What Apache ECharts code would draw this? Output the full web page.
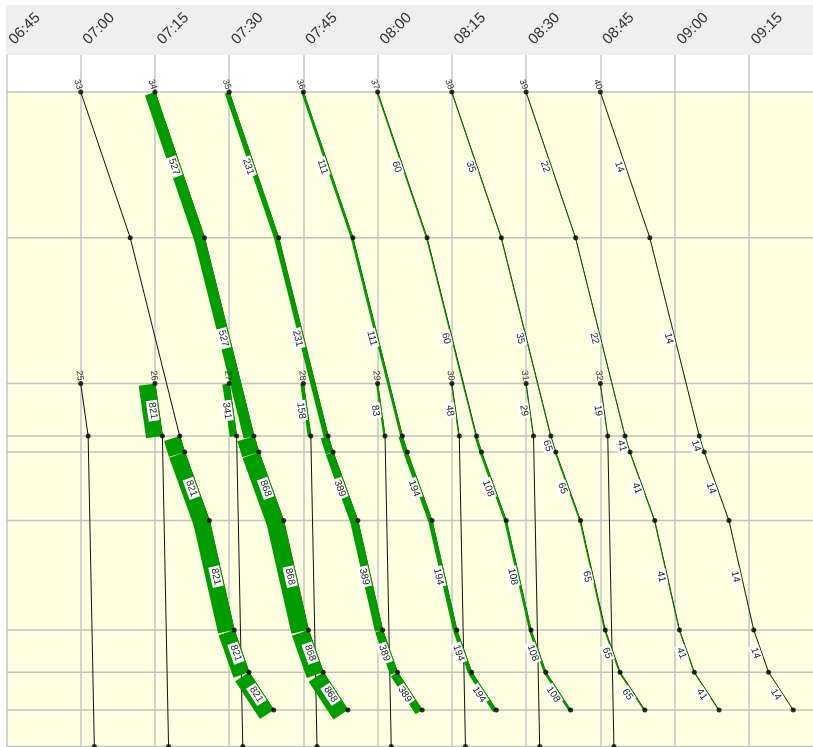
<!DOCTYPE html>
<html>
<head>
<meta charset="utf-8">
<script src="https://cdn.jsdelivr.net/npm/echarts@6/dist/echarts.min.js"></script>
<style>
html,body{margin:0;padding:0;background:#fff;}
#chart{width:813px;height:747px;}
</style>
</head>
<body>
<div id="chart"></div>
<script>
/*------------------------- data ----------------------------*/
//stations, km from the top one
var stationKm = [0, 10.0, 20.0, 23.6, 24.7, 29.4, 36.9, 39.8, 42.4, 44.9];
var transferStop = 3;
//main line trips
var mainTrips = ['33', '34', '35', '36', '37', '38', '39', '40'];
var mainDepart = ['07:00', '07:15', '07:30', '07:45', '08:00', '08:15', '08:30', '08:45'];
var mainStops = [0, 1, 3, 4, 5, 6, 7, 8];
var mainRunMin = [0, 10, 20, 21, 26, 31, 34, 39];
var mainLoadBefore = [0, 527, 231, 111, 60, 35, 22, 14];
var mainLoadAfter = [821, 868, 389, 194, 108, 65, 41, 14];
//feeder trips
var feederTrips = ['25', '26', '27', '28', '29', '30', '31', '32'];
var feederDepart = ['07:00', '07:15', '07:30', '07:45', '08:00', '08:15', '08:30', '08:45'];
var feederStops = [2, 3, 9];
var feederRunMin = [0, 1.5, 2.75];
var feederLoad = [0, 821, 341, 158, 83, 48, 29, 19];
//time axis
var timeMin = '06:45';
var timeMax = '09:30';
var timeStep = 15;

/*------------------------- build ----------------------------*/
function toMin(s){
    var p = s.split(':');
    return parseInt(p[0], 10) * 60 + parseInt(p[1], 10);
}
function fmtMin(v){
    var h = Math.floor(v / 60), m = Math.round(v % 60);
    return (h < 10 ? '0' : '') + h + ':' + (m < 10 ? '0' : '') + m;
}
var segs = [];
var dots = [];
function addTrip(name, dep, stops, run, loadOf){
    var t0 = toMin(dep);
    for(var i = 0; i < stops.length; i++){
        dots.push([t0 + run[i], stationKm[stops[i]]]);
        if(i < stops.length - 1){
            segs.push({
                t1: t0 + run[i], v1: stationKm[stops[i]],
                t2: t0 + run[i + 1], v2: stationKm[stops[i + 1]],
                load: loadOf(stops[i]),
                name: i == 0 ? name : ''
            });
        }
    }
}
for(var i = 0; i < mainTrips.length; i++){
    (function(k){
        addTrip(mainTrips[k], mainDepart[k], mainStops, mainRunMin, function(st){
            return st < transferStop ? mainLoadBefore[k] : mainLoadAfter[k];
        });
    })(i);
}
for(var i = 0; i < feederTrips.length; i++){
    (function(k){
        addTrip(feederTrips[k], feederDepart[k], feederStops, feederRunMin, function(st){
            return st < transferStop ? feederLoad[k] : 0;
        });
    })(i);
}

/*------------------------- render ----------------------------*/
var FONT = 'Liberation Sans, Arial, sans-serif';
function renderSeg(params, api){
    var s = segs[params.dataIndex];
    var p1 = api.coord([api.value(0), api.value(1)]);
    var p2 = api.coord([api.value(2), api.value(3)]);
    var dx = p2[0] - p1[0], dy = p2[1] - p1[1];
    var len = Math.sqrt(dx * dx + dy * dy);
    var ux = dx / len, uy = dy / len;
    var nx = -uy, ny = ux;          //band lies on the left side
    var load = api.value(4);
    var w = load / 50;
    var rot = -Math.atan2(dy, dx);
    var kids = [];
    kids.push({
        type: 'line', z2: 1,
        shape: {x1: p1[0], y1: p1[1], x2: p2[0], y2: p2[1]},
        style: {stroke: '#111', lineWidth: 1}
    });
    if(load > 0){
        var s0 = w > 1.5 ? -0.5 : 0;
        kids.push({
            type: 'polygon', z2: 2,
            shape: {points: [
                [p1[0] + nx * s0, p1[1] + ny * s0],
                [p2[0] + nx * s0, p2[1] + ny * s0],
                [p2[0] + nx * w, p2[1] + ny * w],
                [p1[0] + nx * w, p1[1] + ny * w]
            ]},
            style: {fill: '#009c00'}
        });
        //short segments only keep the label when the band is thin
        if(len > 25 || w < 2){
            kids.push({
                type: 'text', z2: 10,
                x: (p1[0] + p2[0]) / 2 + nx * 6,
                y: (p1[1] + p2[1]) / 2 + ny * 6,
                rotation: rot,
                style: {
                    text: String(load), fill: '#222', font: '10px ' + FONT,
                    align: 'center', verticalAlign: 'middle',
                    backgroundColor: '#fff', padding: [1, 2, 0, 2]
                }
            });
        }
    }
    if(s.name){
        kids.push({
            type: 'text', z2: 10,
            x: p1[0] - ux * 3, y: p1[1] - uy * 3,
            rotation: rot,
            style: {
                text: s.name, fill: '#333', font: '9px ' + FONT,
                align: 'right', verticalAlign: 'middle'
            }
        });
    }
    return {type: 'group', children: kids};
}
function renderStation(params, api){
    var cs = params.coordSys;
    var p = api.coord([toMin(timeMin), api.value(0)]);
    return {
        type: 'line',
        shape: {x1: cs.x, y1: p[1], x2: cs.x + cs.width, y2: p[1]},
        style: {stroke: '#c2c2c2', lineWidth: 1.5}
    };
}

var myChart = echarts.init(document.getElementById('chart'));
var splitStyle = {show: true, lineStyle: {color: '#c6c6c6', width: 1.5}};
var option = {
    animation: false,
    graphic: {
        elements: [{
            type: 'rect', z: -10, left: 6, top: 5,
            shape: {width: 807, height: 50},
            style: {fill: '#efefef'}
        }]
    },
    grid: [
        {left: 6.5, right: -10, top: 55, height: 37, outerBoundsMode: 'none', containLabel: false},
        {left: 6.5, right: -10, top: 92, bottom: -1, outerBoundsMode: 'none', containLabel: false,
         show: true, backgroundColor: '#fffee0', borderWidth: 0}
    ],
    xAxis: [
        {
            gridIndex: 0, type: 'value', position: 'top',
            min: toMin(timeMin), max: toMin(timeMax), interval: timeStep,
            axisLine: {show: false}, axisTick: {show: false},
            axisLabel: {
                rotate: 45, margin: 8, fontSize: 15, color: '#333',
                fontFamily: FONT, formatter: fmtMin, padding: [8, 0, 0, 7]
            },
            splitLine: splitStyle
        },
        {
            gridIndex: 1, type: 'value',
            min: toMin(timeMin), max: toMin(timeMax), interval: timeStep,
            axisLine: {show: false}, axisTick: {show: false}, axisLabel: {show: false},
            splitLine: splitStyle
        }
    ],
    yAxis: [
        {gridIndex: 0, type: 'value', min: 0, max: 1, show: false},
        {gridIndex: 1, type: 'value', inverse: true, min: 0, max: 45, show: false}
    ],
    series: [
        {
            type: 'custom', name: 'stations', xAxisIndex: 1, yAxisIndex: 1, z: 1, silent: true,
            renderItem: renderStation,
            data: stationKm.map(function(v){ return [v]; }),
            encode: {y: 0}
        },
        {
            type: 'custom', name: 'trips', xAxisIndex: 1, yAxisIndex: 1, z: 3, silent: true, clip: false,
            renderItem: renderSeg,
            data: segs.map(function(s){ return [s.t1, s.v1, s.t2, s.v2, s.load]; }),
            encode: {x: [0, 2], y: [1, 3]}
        },
        {
            type: 'scatter', name: 'stops', xAxisIndex: 1, yAxisIndex: 1, z: 4, silent: true, clip: false,
            symbolSize: 5, itemStyle: {color: '#000'},
            data: dots
        }
    ]
};
myChart.setOption(option);
</script>
</body>
</html>
